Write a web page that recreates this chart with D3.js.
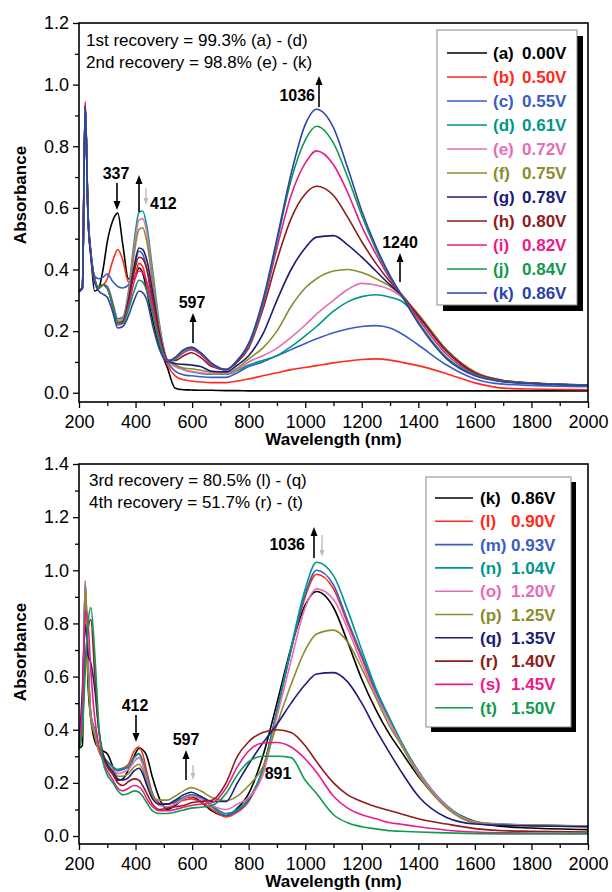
<!DOCTYPE html>
<html>
<head>
<meta charset="utf-8">
<script src="https://cdn.jsdelivr.net/npm/d3@7"></script>
<style>
  body { margin: 0; background: #fff; }
  svg { display: block; }
  text { font-family: "Liberation Sans", Arial, sans-serif; }
</style>
</head>
<body>
<div id="wrapper"></div>
<script>
// wavelength grid (nm) shared by every spectrum
const wavelengths = [200, 212, 222, 232, 242, 255, 270, 285, 300, 320,
  337, 355, 375, 395, 412, 425, 440, 460, 485, 513,
  540, 570, 597, 630, 670, 720, 760, 800, 850, 900,
  950, 1000, 1040, 1100, 1150, 1200, 1250, 1300, 1335, 1400,
  1500, 1600, 1700, 1800, 2000];

// top panel spectra (a)-(k)
const specA = [0.33,0.34,0.92,0.58,0.45,0.33,0.34,0.40,0.49,0.56, 0.583,0.48,0.37,0.37,0.405, 0.39,0.33,0.24,0.15,0.08, 0.015,0.01,0.009,0.008,0.008, 0.007,0.007,0.006,0.006,0.006, 0.006,0.006,0.006,0.006,0.006, 0.006,0.006,0.006,0.006,0.006, 0.006,0.006,0.006,0.006,0.006];
const specB = [0.33,0.34,0.945,0.58,0.45,0.36,0.345,0.35,0.37,0.43, 0.465,0.43,0.36,0.37,0.42, 0.41,0.35,0.26,0.16,0.09, 0.055,0.042,0.038,0.035,0.033, 0.033,0.038,0.045,0.055,0.065, 0.075,0.082,0.088,0.097,0.103, 0.108,0.11,0.106,0.10,0.088, 0.062,0.032,0.015,0.012,0.01];
const specC = [0.33,0.34,0.93,0.58,0.46,0.38,0.37,0.375,0.385,0.36, 0.345,0.34,0.35,0.40,0.46, 0.45,0.40,0.29,0.17,0.10, 0.07,0.058,0.055,0.052,0.05, 0.05,0.065,0.085,0.10,0.12, 0.14,0.16,0.175,0.195,0.207, 0.215,0.218,0.21,0.195,0.155, 0.09,0.045,0.028,0.024,0.02];
const specD = [0.33,0.34,0.93,0.57,0.45,0.37,0.34,0.35,0.345,0.29, 0.24,0.245,0.33,0.49,0.585, 0.59,0.54,0.40,0.22,0.105, 0.09,0.075,0.068,0.063,0.06, 0.06,0.072,0.09,0.105,0.12, 0.15,0.185,0.215,0.265,0.295, 0.312,0.318,0.31,0.30,0.245, 0.135,0.065,0.036,0.03,0.024];
const specE = [0.33,0.34,0.935,0.57,0.45,0.37,0.34,0.35,0.345,0.29, 0.235,0.24,0.32,0.47,0.56, 0.565,0.52,0.38,0.21,0.105, 0.085,0.075,0.07,0.065,0.062, 0.062,0.075,0.10,0.12,0.145, 0.18,0.22,0.255,0.30,0.335, 0.355,0.35,0.335,0.315,0.25, 0.135,0.066,0.037,0.03,0.024];
const specF = [0.33,0.34,0.93,0.57,0.45,0.37,0.34,0.35,0.34,0.285, 0.23,0.235,0.31,0.45,0.53, 0.535,0.49,0.36,0.20,0.105, 0.09,0.08,0.078,0.073,0.067, 0.065,0.08,0.11,0.145,0.20, 0.28,0.34,0.37,0.395,0.40, 0.39,0.37,0.345,0.32,0.255, 0.14,0.068,0.04,0.032,0.025];
const specG = [0.33,0.34,0.93,0.57,0.45,0.37,0.34,0.35,0.34,0.28, 0.225,0.23,0.30,0.41,0.47, 0.465,0.43,0.33,0.19,0.105, 0.095,0.092,0.09,0.085,0.07, 0.068,0.09,0.12,0.19,0.30, 0.40,0.47,0.505,0.51,0.48, 0.44,0.395,0.35,0.322,0.25, 0.135,0.063,0.038,0.031,0.025];
const specH = [0.33,0.34,0.935,0.57,0.45,0.37,0.34,0.35,0.34,0.28, 0.225,0.23,0.29,0.39,0.44, 0.435,0.40,0.31,0.18,0.105, 0.105,0.12,0.13,0.115,0.085, 0.075,0.10,0.145,0.27,0.43, 0.565,0.645,0.67,0.64,0.57, 0.49,0.42,0.36,0.325,0.25, 0.135,0.065,0.04,0.032,0.025];
const specI = [0.33,0.34,0.94,0.57,0.45,0.37,0.34,0.35,0.34,0.28, 0.22,0.225,0.28,0.36,0.395, 0.39,0.36,0.28,0.17,0.105, 0.11,0.13,0.14,0.125,0.09, 0.075,0.105,0.15,0.28,0.47, 0.64,0.745,0.785,0.74,0.65, 0.54,0.45,0.37,0.325,0.24, 0.125,0.06,0.038,0.031,0.025];
const specJ = [0.33,0.34,0.93,0.57,0.45,0.37,0.34,0.35,0.34,0.28, 0.225,0.225,0.27,0.33,0.365, 0.36,0.33,0.26,0.16,0.10, 0.11,0.135,0.145,0.13,0.095, 0.075,0.105,0.155,0.29,0.49, 0.69,0.82,0.865,0.81,0.70, 0.575,0.465,0.375,0.325,0.23, 0.115,0.058,0.037,0.031,0.025];
const specK = [0.33,0.34,0.93,0.57,0.44,0.36,0.33,0.32,0.31,0.26, 0.21,0.215,0.25,0.30,0.33, 0.325,0.30,0.22,0.14,0.10, 0.115,0.14,0.148,0.13,0.095, 0.075,0.105,0.16,0.30,0.50, 0.71,0.87,0.92,0.86,0.73, 0.59,0.475,0.38,0.325,0.225, 0.11,0.055,0.036,0.03,0.024];

// bottom panel spectra (l)-(t), plus (k) again
const specL = [0.33,0.40,0.93,0.65,0.45,0.40,0.33,0.30,0.28,0.26, 0.25,0.255,0.27,0.32,0.335, 0.31,0.24,0.16,0.125,0.12, 0.125,0.135,0.14,0.13,0.10, 0.072,0.09,0.13,0.25,0.47, 0.70,0.90,0.985,0.93,0.80, 0.67,0.54,0.43,0.36,0.24, 0.11,0.05,0.042,0.04,0.035];
const specM = [0.33,0.42,0.95,0.65,0.45,0.40,0.33,0.30,0.28,0.26, 0.245,0.25,0.26,0.295,0.31, 0.28,0.22,0.155,0.12,0.12, 0.13,0.145,0.155,0.145,0.11, 0.078,0.095,0.135,0.25,0.47, 0.70,0.91,1.0,0.945,0.81, 0.68,0.545,0.435,0.36,0.24, 0.11,0.052,0.044,0.041,0.037];
const specN = [0.33,0.42,0.96,0.66,0.46,0.40,0.33,0.30,0.28,0.26, 0.25,0.255,0.26,0.295,0.31, 0.28,0.22,0.155,0.12,0.12, 0.13,0.145,0.155,0.145,0.115, 0.085,0.10,0.14,0.25,0.47, 0.71,0.93,1.03,0.98,0.85, 0.70,0.555,0.44,0.365,0.245, 0.115,0.055,0.045,0.042,0.038];
const specO = [0.33,0.44,0.96,0.64,0.45,0.39,0.32,0.29,0.27,0.25, 0.235,0.24,0.25,0.28,0.295, 0.27,0.21,0.15,0.115,0.11, 0.12,0.14,0.15,0.14,0.115, 0.10,0.12,0.145,0.23,0.45, 0.66,0.86,0.93,0.89,0.78, 0.65,0.53,0.425,0.355,0.24, 0.112,0.053,0.044,0.041,0.037];
const specP = [0.33,0.45,0.94,0.62,0.44,0.38,0.32,0.29,0.27,0.245, 0.225,0.225,0.235,0.26,0.27, 0.25,0.20,0.15,0.135,0.135, 0.15,0.17,0.182,0.17,0.145, 0.133,0.15,0.19,0.26,0.42, 0.57,0.70,0.76,0.775,0.73, 0.63,0.52,0.41,0.35,0.23, 0.105,0.05,0.042,0.04,0.036];
const specQ = [0.33,0.55,0.795,0.68,0.65,0.56,0.40,0.31,0.27,0.24, 0.215,0.21,0.22,0.245,0.255, 0.235,0.19,0.14,0.12,0.12, 0.135,0.155,0.165,0.15,0.13, 0.13,0.20,0.27,0.35,0.42, 0.50,0.57,0.61,0.615,0.58, 0.50,0.40,0.31,0.25,0.15, 0.07,0.045,0.04,0.038,0.035];
const specR = [0.33,0.45,0.65,0.78,0.815,0.62,0.40,0.30,0.26,0.23, 0.20,0.19,0.205,0.215,0.21, 0.19,0.16,0.12,0.10,0.105, 0.11,0.115,0.125,0.13,0.135, 0.20,0.30,0.355,0.39,0.40, 0.39,0.34,0.28,0.20,0.155, 0.13,0.11,0.095,0.085,0.065, 0.045,0.028,0.02,0.018,0.015];
const specS = [0.33,0.50,0.85,0.80,0.62,0.45,0.34,0.28,0.245,0.21, 0.18,0.17,0.18,0.19,0.185, 0.17,0.14,0.11,0.095,0.095, 0.10,0.108,0.115,0.12,0.125, 0.18,0.26,0.32,0.35,0.352, 0.335,0.29,0.24,0.15,0.105, 0.08,0.065,0.05,0.045,0.035, 0.022,0.015,0.012,0.011,0.01];
const specT = [0.33,0.40,0.62,0.80,0.86,0.70,0.42,0.28,0.23,0.20, 0.17,0.155,0.16,0.17,0.165, 0.15,0.125,0.095,0.085,0.085, 0.09,0.098,0.105,0.108,0.115, 0.16,0.23,0.28,0.30,0.30, 0.295,0.21,0.16,0.08,0.05, 0.035,0.027,0.02,0.018,0.015, 0.012,0.009,0.008,0.008,0.008];

// legend entries
const topLetters = ["(a)", "(b)", "(c)", "(d)", "(e)", "(f)", "(g)", "(h)", "(i)", "(j)", "(k)"];
const topVoltages = ["0.00V", "0.50V", "0.55V", "0.61V", "0.72V", "0.75V", "0.78V", "0.80V", "0.82V", "0.84V", "0.86V"];
const bottomLetters = ["(k)", "(l)", "(m)", "(n)", "(o)", "(p)", "(q)", "(r)", "(s)", "(t)"];
const bottomVoltages = ["0.86V", "0.90V", "0.93V", "1.04V", "1.20V", "1.25V", "1.35V", "1.40V", "1.45V", "1.50V"];

const topSpectra = [specA, specB, specC, specD, specE, specF, specG, specH, specI, specJ, specK];
const bottomSpectra = [specK, specL, specM, specN, specO, specP, specQ, specR, specS, specT];

const palette = ["#000000", "#ff2a1a", "#3a5cc4", "#00968a", "#e66cb8", "#8c8c2e",
                 "#1c1c78", "#8e1c1c", "#ec1a8a", "#109a50", "#2a42a6"];

const svg = d3.select("#wrapper").append("svg")
  .attr("width", 612)
  .attr("height", 892);

function drawArrow(g, x, yTail, yHead, color, headLen, headW, sw) {
  const dir = yHead > yTail ? 1 : -1;
  g.append("line")
    .attr("x1", x).attr("x2", x)
    .attr("y1", yTail).attr("y2", yHead - dir * headLen * 0.6)
    .attr("stroke", color).attr("stroke-width", sw);
  g.append("path")
    .attr("d", `M${x},${yHead} L${x - headW / 2},${yHead - dir * headLen} L${x + headW / 2},${yHead - dir * headLen} Z`)
    .attr("fill", color);
}

function drawPanel(cfg) {
  const g = svg.append("g");
  const x = d3.scaleLinear().domain([200, 2000]).range([cfg.left, cfg.right]);
  const y = d3.scaleLinear().domain([-0.03, cfg.yMax]).range([cfg.bottom, cfg.top]);

  // minor ticks
  g.append("g")
    .attr("transform", `translate(0,${cfg.bottom})`)
    .call(d3.axisBottom(x).tickValues(d3.range(300, 2000, 200)).tickSize(4).tickSizeOuter(0).tickFormat(""))
    .call(a => a.select(".domain").remove());
  g.append("g")
    .attr("transform", `translate(${cfg.left},0)`)
    .call(d3.axisLeft(y).tickValues(d3.range(0.1, cfg.yMax, 0.2)).tickSize(4).tickSizeOuter(0).tickFormat(""))
    .call(a => a.select(".domain").remove());

  // major ticks
  const xAxis = g.append("g")
    .attr("transform", `translate(0,${cfg.bottom})`)
    .call(d3.axisBottom(x).tickValues(d3.range(200, 2001, 200)).tickSize(6).tickSizeOuter(0).tickPadding(7).tickFormat(d3.format("d")));
  const yAxis = g.append("g")
    .attr("transform", `translate(${cfg.left},0)`)
    .call(d3.axisLeft(y).tickValues(d3.range(0, cfg.yMax + 0.001, 0.2)).tickSize(6).tickSizeOuter(0).tickPadding(4).tickFormat(d3.format(".1f")));
  [xAxis, yAxis].forEach(a => {
    a.selectAll("text").attr("font-size", 18).attr("fill", "#000")
      .style("font-family", '"Liberation Sans", Arial, sans-serif');
    a.select(".domain").remove();
  });
  g.selectAll(".tick line").attr("stroke-width", 1.3);

  // spectra
  const line = d3.line()
    .x((d, i) => x(wavelengths[i]))
    .y(d => y(d))
    .curve(d3.curveMonotoneX);
  cfg.spectra.forEach((s, i) => {
    g.append("path")
      .attr("d", line(s))
      .attr("fill", "none")
      .attr("stroke", cfg.colors[i])
      .attr("stroke-width", 1.6)
      .attr("stroke-linejoin", "round");
  });

  // frame
  g.append("rect")
    .attr("x", cfg.left).attr("y", cfg.top)
    .attr("width", cfg.right - cfg.left).attr("height", cfg.bottom - cfg.top)
    .attr("fill", "none").attr("stroke", "#000").attr("stroke-width", 1.6);

  // axis titles
  g.append("text")
    .attr("x", (cfg.left + cfg.right) / 2).attr("y", cfg.xTitleY)
    .attr("text-anchor", "middle").attr("font-size", 17).attr("font-weight", "bold")
    .text("Wavelength (nm)");
  g.append("text")
    .attr("transform", `translate(26,${cfg.yTitleY}) rotate(-90)`)
    .attr("text-anchor", "middle").attr("font-size", 17).attr("font-weight", "bold")
    .text("Absorbance");

  // recovery notes
  cfg.notes.forEach((t, i) => {
    g.append("text")
      .attr("x", cfg.noteX).attr("y", cfg.noteY + i * 22)
      .attr("font-size", 17).text(t);
  });

  // legend
  const L = cfg.legend;
  g.append("rect")
    .attr("x", L.x + L.shadow).attr("y", L.y + L.shadow)
    .attr("width", L.w).attr("height", L.h).attr("fill", "#000");
  g.append("rect")
    .attr("x", L.x).attr("y", L.y)
    .attr("width", L.w).attr("height", L.h)
    .attr("fill", "#fff").attr("stroke", "#888").attr("stroke-width", 1);
  cfg.letters.forEach((lab, i) => {
    const cy = L.firstRow + i * L.rowStep;
    g.append("line")
      .attr("x1", L.lineX1).attr("x2", L.lineX2)
      .attr("y1", cy).attr("y2", cy)
      .attr("stroke", cfg.colors[i]).attr("stroke-width", 1.6);
    g.append("text")
      .attr("x", L.letterX).attr("y", cy + 6)
      .attr("font-size", 17).attr("font-weight", "bold").attr("fill", cfg.colors[i])
      .text(lab);
    g.append("text")
      .attr("x", L.valueX).attr("y", cy + 6)
      .attr("font-size", 17).attr("font-weight", "bold").attr("fill", cfg.colors[i])
      .text(cfg.voltages[i]);
  });

  // peak labels and arrows
  cfg.labels.forEach(l => {
    g.append("text")
      .attr("x", l.x).attr("y", l.y)
      .attr("text-anchor", l.anchor || "middle")
      .attr("font-size", 16).attr("font-weight", "bold")
      .text(l.t);
  });
  cfg.arrows.forEach(a => {
    if (a.gray) drawArrow(g, a.x, a.y1, a.y2, "#bdbdbd", 7, 5, 1.4);
    else drawArrow(g, a.x, a.y1, a.y2, "#000", 9, 7, 1.6);
  });
}

drawPanel({
  left: 79, right: 588, top: 23, bottom: 402, yMax: 1.2,
  spectra: topSpectra,
  colors: palette,
  letters: topLetters, voltages: topVoltages,
  xTitleY: 445, yTitleY: 195,
  noteX: 86, noteY: 46,
  notes: ["1st recovery = 99.3% (a) - (d)", "2nd recovery = 98.8% (e) - (k)"],
  legend: { x: 437, y: 30, w: 140, h: 275, shadow: 6, firstRow: 53, rowStep: 24,
            lineX1: 447, lineX2: 487, letterX: 493, valueX: 522 },
  labels: [
    { t: "337", x: 116, y: 179 },
    { t: "412", x: 150, y: 209, anchor: "start" },
    { t: "597", x: 192, y: 308 },
    { t: "1036", x: 315, y: 101, anchor: "end" },
    { t: "1240", x: 400, y: 248 }
  ],
  arrows: [
    { x: 117, y1: 183, y2: 210 },
    { x: 139, y1: 212, y2: 175 },
    { x: 146, y1: 188, y2: 205, gray: true },
    { x: 193, y1: 343, y2: 313 },
    { x: 319, y1: 107, y2: 76 },
    { x: 400, y1: 282, y2: 253 }
  ]
});

drawPanel({
  left: 79, right: 588, top: 464, bottom: 844, yMax: 1.4,
  spectra: bottomSpectra,
  colors: palette.slice(0, 10),
  letters: bottomLetters, voltages: bottomVoltages,
  xTitleY: 887, yTitleY: 652,
  noteX: 89, noteY: 486,
  notes: ["3rd recovery = 80.5% (l) - (q)", "4th recovery = 51.7% (r) - (t)"],
  legend: { x: 426, y: 477, w: 145, h: 250, shadow: 5, firstRow: 498, rowStep: 23.3,
            lineX1: 435, lineX2: 473, letterX: 480, valueX: 511 },
  labels: [
    { t: "1036", x: 305, y: 550, anchor: "end" },
    { t: "412", x: 135, y: 711 },
    { t: "597", x: 186, y: 745 },
    { t: "891", x: 278, y: 779 }
  ],
  arrows: [
    { x: 314, y1: 558, y2: 527 },
    { x: 322, y1: 535, y2: 557, gray: true },
    { x: 136, y1: 715, y2: 742 },
    { x: 186, y1: 780, y2: 750 },
    { x: 193, y1: 765, y2: 780, gray: true }
  ]
});
</script>
</body>
</html>
